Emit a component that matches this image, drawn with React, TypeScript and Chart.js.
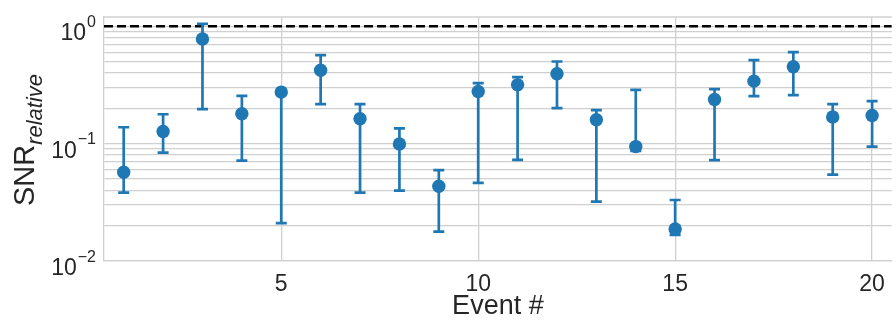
import React, { useEffect, useRef } from "react";
import { Chart, registerables } from "chart.js";

Chart.register(...registerables);

const events = [1, 2, 3, 4, 5, 6, 7, 8, 9, 10, 11, 12, 13, 14, 15, 16, 17, 18, 19, 20];
const snr = [0.057, 0.127, 0.78, 0.18, 0.275, 0.423, 0.163, 0.0995, 0.0434, 0.278, 0.317, 0.394, 0.16, 0.0944, 0.01875, 0.238, 0.341, 0.452, 0.169, 0.174];
const lower = [0.0382, 0.0839, 0.197, 0.0717, 0.021, 0.217, 0.0382, 0.0398, 0.0178, 0.0463, 0.0727, 0.2006, 0.032, 0.0867, 0.0167, 0.0723, 0.254, 0.259, 0.0545, 0.0944];
const upper = [0.138, 0.178, 1.05, 0.255, 0.28, 0.568, 0.217, 0.135, 0.0594, 0.328, 0.369, 0.501, 0.193, 0.287, 0.0331, 0.291, 0.515, 0.603, 0.217, 0.23];
const xTicks = [5, 10, 15, 20];
const yDecades = [-2, -1, 0];
const referenceLevel = 1;
const xTitle = "Event #";
const yTitleMain = "SNR";
const yTitleSub = "relative";

const BLUE = "#1f77b4";
const GRID = "#d0d0d0";
const TEXT = "#262626";
const FONT = "'Liberation Sans', Arial, sans-serif";

const minusify = (n: number) => (n < 0 ? "\u2212" + Math.abs(n) : String(n));

const textPlugin = {
  id: "customText",
  beforeDatasetsDraw(chart: any) {
    const { ctx, chartArea } = chart;
    ctx.save();
    ctx.strokeStyle = GRID;
    ctx.lineWidth = 1.3;
    ctx.beginPath();
    ctx.moveTo(chartArea.left, chartArea.top);
    ctx.lineTo(chartArea.right, chartArea.top);
    ctx.stroke();
    ctx.restore();
  },
  afterDraw(chart: any) {
    const { ctx, chartArea } = chart;
    const y = chart.scales.y;
    ctx.save();
    ctx.fillStyle = TEXT;
    ctx.textBaseline = "alphabetic";
    ctx.textAlign = "left";
    const rightX = 96;
    for (const d of yDecades) {
      const py = y.getPixelForValue(Math.pow(10, d));
      const sup = minusify(d);
      ctx.font = `16px ${FONT}`;
      const ws = ctx.measureText(sup).width;
      ctx.font = `23px ${FONT}`;
      const wm = ctx.measureText("10").width;
      const x0 = rightX - ws - wm - 1;
      ctx.fillText("10", x0, py + 14);
      ctx.font = `16px ${FONT}`;
      ctx.fillText(sup, x0 + wm + 1, py + 0.5);
    }
    // y title
    const cy = (chartArea.top + chartArea.bottom) / 2 + 1;
    ctx.font = `29px ${FONT}`;
    const w1 = ctx.measureText(yTitleMain).width;
    ctx.font = `italic 22px ${FONT}`;
    const w2 = ctx.measureText(yTitleSub).width;
    const total = w1 + w2;
    ctx.translate(33.5, cy);
    ctx.rotate(-Math.PI / 2);
    ctx.font = `29px ${FONT}`;
    ctx.fillText(yTitleMain, -total / 2, 0);
    ctx.font = `italic 22px ${FONT}`;
    ctx.fillText(yTitleSub, -total / 2 + w1, 8.5);
    ctx.restore();
  },
};

export default function App() {
  const ref = useRef<HTMLCanvasElement>(null);
  useEffect(() => {
    if (!ref.current) return;
    const barData: any[] = [];
    events.forEach((e, i) => {
      barData.push({ x: e, y: lower[i] });
      barData.push({ x: e, y: upper[i] });
      barData.push({ x: e, y: null });
    });
    const capData: any[] = [];
    events.forEach((e, i) => {
      capData.push({ x: e, y: lower[i] });
      capData.push({ x: e, y: upper[i] });
    });
    const chart = new Chart(ref.current, {
      type: "scatter",
      data: {
        datasets: [
          {
            type: "scatter",
            data: events.map((e, i) => ({ x: e, y: snr[i] })),
            pointRadius: 6.7,
            pointBackgroundColor: BLUE,
            pointBorderWidth: 0,
            order: 0,
          },
          {
            type: "scatter",
            data: capData,
            pointStyle: "line",
            pointRadius: 5.5,
            pointBorderColor: BLUE,
            pointBorderWidth: 2.7,
            order: 1,
          },
          {
            type: "line",
            data: barData,
            borderColor: BLUE,
            borderWidth: 2.7,
            pointRadius: 0,
            spanGaps: false,
            order: 2,
          },
          {
            type: "line",
            data: [
              { x: 0.5, y: referenceLevel },
              { x: 20.5, y: referenceLevel },
            ],
            borderColor: "#000000",
            borderWidth: 2.5,
            borderDash: [9, 4],
            pointRadius: 0,
            order: 3,
          },
        ] as any,
      },
      options: {
        responsive: false,
        animation: false,
        events: [],
        layout: { padding: { top: 17, right: 1, left: 0, bottom: 0 } },
        plugins: { legend: { display: false }, tooltip: { enabled: false } },
        scales: {
          x: {
            type: "linear",
            min: 0.5,
            max: 20.5,
            offset: false,
            afterBuildTicks: (s: any) => {
              s.ticks = xTicks.map((v) => ({ value: v }));
            },
            afterFit: (s: any) => {
              s.height = 61;
            },
            grid: { color: GRID, lineWidth: 1.3, drawTicks: false, offset: false },
            border: { color: GRID, width: 1.3 },
            ticks: {
              font: { family: FONT, size: 23 },
              color: TEXT,
              padding: 10,
              maxRotation: 0,
              autoSkip: false,
            },
            title: {
              display: true,
              text: xTitle,
              font: { family: FONT, size: 27 },
              color: TEXT,
              padding: { top: 0, bottom: -1 },
            },
          },
          y: {
            type: "logarithmic",
            min: 0.01,
            max: 1.2,
            afterBuildTicks: (s: any) => {
              const t: any[] = [];
              for (const d of [-2, -1]) {
                for (let m = 1; m <= 9; m++) t.push({ value: m * Math.pow(10, d) });
              }
              t.push({ value: 1 });
              s.ticks = t;
            },
            afterFit: (s: any) => {
              s.width = 104;
            },
            grid: { color: GRID, lineWidth: 1.3, drawTicks: false },
            border: { color: GRID, width: 1.3 },
            ticks: { display: false },
          },
        },
      },
      plugins: [textPlugin],
    } as any);
    return () => chart.destroy();
  }, []);
  return (
    <div style={{ position: "absolute", left: 0, top: 0, width: 896, height: 322, overflow: "hidden", background: "#fff" }}>
      <canvas ref={ref} width={900} height={322} style={{ width: 900, height: 322, display: "block" }} />
    </div>
  );
}
